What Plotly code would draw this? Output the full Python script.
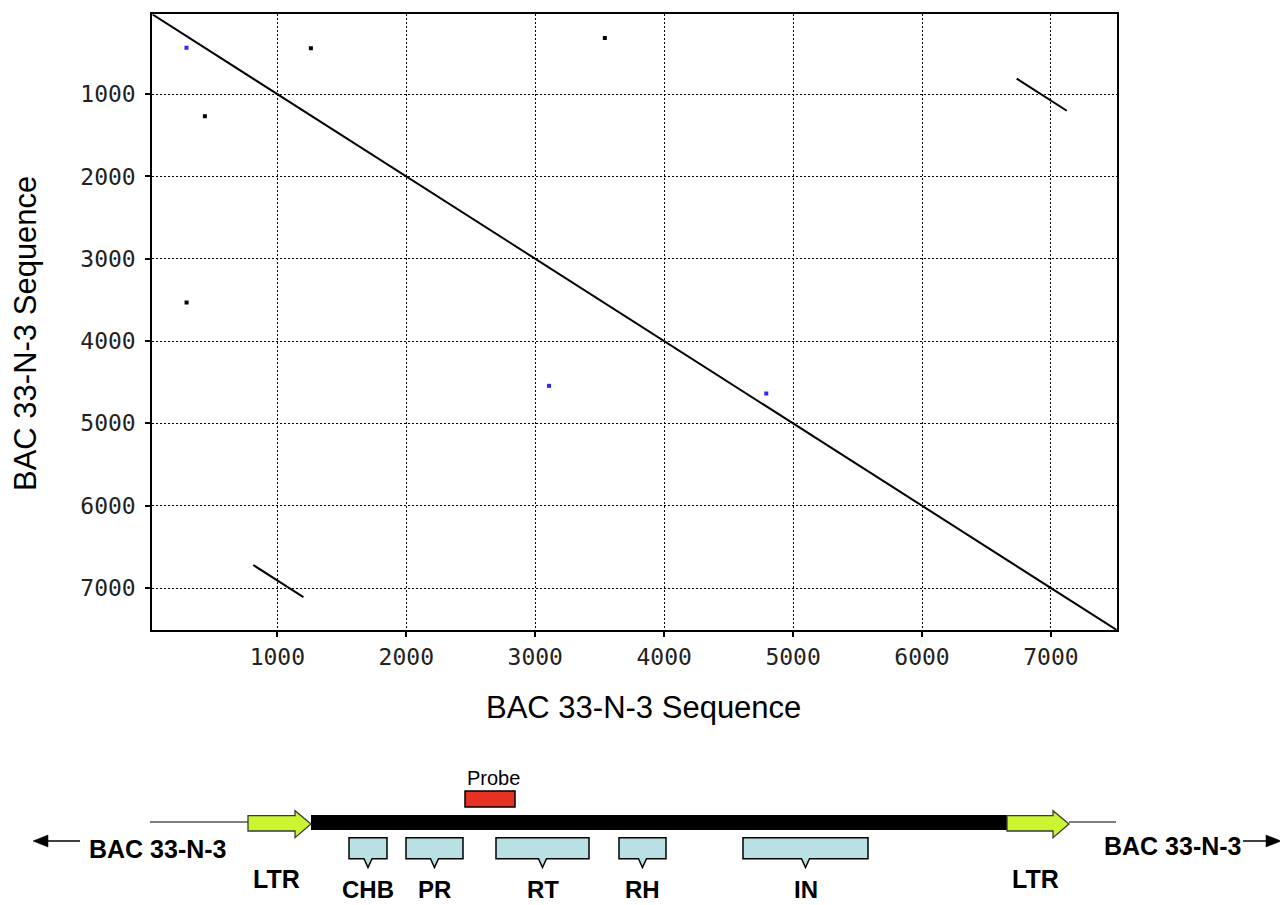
import plotly.graph_objects as go

# ---------------- dot-plot data (sequence coordinates) ----------------
seq_start = 30
seq_end = 7510
tick_values = [1000, 2000, 3000, 4000, 5000, 6000, 7000]
tick_labels = ["1000", "2000", "3000", "4000", "5000", "6000", "7000"]

diag_x = [seq_start, seq_end]
diag_y = [seq_start, seq_end]

# LTR-vs-LTR off-diagonal matches
ltr_match1_x = [813, 1202]
ltr_match1_y = [6720, 7110]
ltr_match2_x = [6734, 7123]
ltr_match2_y = [811, 1202]

# short spurious matches
black_dot_x = [1260, 438, 3540, 296]
black_dot_y = [442, 1270, 317, 3530]
blue_dot_x = [295, 3107, 4792]
blue_dot_y = [435, 4544, 4637]

# ---------------- schematic diagram (diagram units) ----------------
flank_left = [150, 248]
flank_right = [1069, 1116]
ltr_start = [248, 1007]
ltr_end = [311, 1069]
internal_region = [311, 1007]
probe_region = [465, 515]
domain_names = ["CHB", "PR", "RT", "RH", "IN"]
domain_start = [349, 406, 496, 619, 743]
domain_end = [387, 463, 589, 666, 868]

W, H = 1280, 905
fig = go.Figure()

# main dot plot
fig.add_trace(go.Scatter(x=diag_x, y=diag_y, mode="lines",
                         line=dict(color="black", width=2), hoverinfo="skip", showlegend=False))
for xs, ys in [(ltr_match1_x, ltr_match1_y), (ltr_match2_x, ltr_match2_y)]:
    fig.add_trace(go.Scatter(x=xs, y=ys, mode="lines",
                             line=dict(color="black", width=2), showlegend=False))
fig.add_trace(go.Scatter(x=black_dot_x, y=black_dot_y, mode="markers",
                         marker=dict(color="black", size=4, symbol="square"), showlegend=False))
fig.add_trace(go.Scatter(x=blue_dot_x, y=blue_dot_y, mode="markers",
                         marker=dict(color="#2a2aff", size=4, symbol="square"), showlegend=False))

# invisible trace to activate the overlay axes for the diagram
fig.add_trace(go.Scatter(x=[0], y=[0], xaxis="x2", yaxis="y2", mode="markers",
                         marker=dict(size=1, color="rgba(0,0,0,0)"), showlegend=False, hoverinfo="skip"))

tick_font = dict(family="DejaVu Sans Mono", size=23, color="#222222")
axis_common = dict(
    showline=True, linecolor="black", linewidth=2, mirror=True,
    ticks="outside", ticklen=5, tickwidth=1.5, tickcolor="black",
    showgrid=True, gridcolor="black", gridwidth=1.3, griddash="2px,2px",
    zeroline=False, tickfont=tick_font,
    tickvals=tick_values, ticktext=tick_labels,
)

fig.update_layout(
    width=W, height=H,
    margin=dict(l=0, r=0, t=0, b=0),
    paper_bgcolor="white", plot_bgcolor="rgba(0,0,0,0)",
    xaxis=dict(domain=[152.3 / W, 1116.7 / W], range=[seq_start, seq_end], **axis_common),
    yaxis=dict(domain=[1 - 630 / H, 1 - 14.3 / H], range=[seq_end, seq_start],
               ticklabelstandoff=5, **axis_common),
    xaxis2=dict(domain=[0, 1], range=[0, W], visible=False, anchor="y2", fixedrange=True),
    yaxis2=dict(domain=[0, 1], range=[H, 0], visible=False, anchor="x2", fixedrange=True),
)

shapes = []
ref = dict(xref="x2", yref="y2")

# flank lines
for seg in (flank_left, flank_right):
    shapes.append(dict(type="line", x0=seg[0], x1=seg[1], y0=822, y1=822,
                       line=dict(color="black", width=1.2), **ref))
# internal black bar
shapes.append(dict(type="rect", x0=internal_region[0], x1=internal_region[1], y0=815, y1=830,
                   fillcolor="black", line=dict(color="black", width=0), **ref))
# LTR arrows
for s, e in zip(ltr_start, ltr_end):
    xb = e - 16
    path = (f"M {s},815.7 L {xb},815.7 L {xb},810.7 L {e},824 L {xb},837.7 "
            f"L {xb},831 L {s},831 Z")
    shapes.append(dict(type="path", path=path, fillcolor="#c9f531",
                       line=dict(color="#3a3a3a", width=1.3), **ref))
# probe
shapes.append(dict(type="rect", x0=probe_region[0], x1=probe_region[1], y0=791, y1=807,
                   fillcolor="#e53222", line=dict(color="black", width=1.5), **ref))
# domain callouts
for s, e in zip(domain_start, domain_end):
    c = (s + e) / 2
    path = (f"M {s},837.7 L {e},837.7 L {e},858.7 L {c+4},858.7 L {c},867.5 "
            f"L {c-4},858.7 L {s},858.7 Z")
    shapes.append(dict(type="path", path=path, fillcolor="#b9e0e3",
                       line=dict(color="black", width=1.5), **ref))
# flank direction arrows
shapes.append(dict(type="line", x0=47, x1=80, y0=841, y1=841, line=dict(color="black", width=1.5), **ref))
shapes.append(dict(type="path", path="M 33,841 L 48,835 L 48,847 Z", fillcolor="black",
                   line=dict(color="black", width=0.5), **ref))
shapes.append(dict(type="line", x0=1243, x1=1267, y0=841, y1=841, line=dict(color="black", width=1.5), **ref))
shapes.append(dict(type="path", path="M 1281,841 L 1266,835 L 1266,847 Z", fillcolor="black",
                   line=dict(color="black", width=0.5), **ref))

fig.update_layout(shapes=shapes)

ann = []
title_font = dict(family="Liberation Sans, Arial", size=31, color="black")
ann.append(dict(text="BAC 33-N-3 Sequence", x=643, y=707, showarrow=False, font=title_font,
                xanchor="center", yanchor="middle", **ref))
ann.append(dict(text="BAC 33-N-3 Sequence", x=25, y=334, showarrow=False, font=title_font,
                textangle=-90, xanchor="center", yanchor="middle", **ref))

bold = dict(family="Liberation Sans, Arial", size=25, color="black")
ann.append(dict(text="<b>BAC 33-N-3</b>", x=158, y=849, showarrow=False, font=bold,
                xanchor="center", yanchor="middle", **ref))
ann.append(dict(text="<b>BAC 33-N-3</b>", x=1173, y=846, showarrow=False, font=bold,
                xanchor="center", yanchor="middle", **ref))
for s, e in zip(ltr_start, ltr_end):
    ann.append(dict(text="<b>LTR</b>", x=(s + e) / 2 - 3, y=879, showarrow=False, font=bold,
                    xanchor="center", yanchor="middle", **ref))
small_bold = dict(family="Liberation Sans, Arial", size=24, color="black")
for name, s, e in zip(domain_names, domain_start, domain_end):
    ann.append(dict(text=f"<b>{name}</b>", x=(s + e) / 2, y=889, showarrow=False, font=small_bold,
                    xanchor="center", yanchor="middle", **ref))
ann.append(dict(text="Probe", x=(probe_region[0] + probe_region[1]) / 2 + 3, y=778, showarrow=False,
                font=dict(family="Liberation Sans, Arial", size=20, color="black"),
                xanchor="center", yanchor="middle", **ref))
fig.update_layout(annotations=ann)

fig.write_html("out.html", config={"displayModeBar": False},
               post_script="document.body.style.margin='0';document.body.style.padding='0';")
